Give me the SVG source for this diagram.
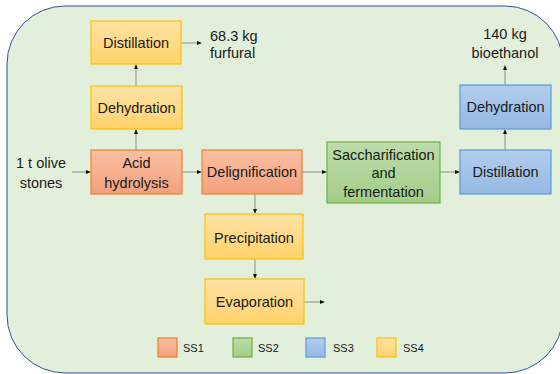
<svg xmlns="http://www.w3.org/2000/svg" width="560" height="374" viewBox="0 0 560 374">
<defs>
<linearGradient id="gy" x1="0" y1="0" x2="0" y2="1"><stop offset="0" stop-color="#ffe2a6"/><stop offset="1" stop-color="#ffd26a"/></linearGradient>
<linearGradient id="gr" x1="0" y1="0" x2="0" y2="1"><stop offset="0" stop-color="#f9c0a4"/><stop offset="1" stop-color="#f4a07c"/></linearGradient>
<linearGradient id="gg" x1="0" y1="0" x2="0" y2="1"><stop offset="0" stop-color="#bcdcaa"/><stop offset="1" stop-color="#a3cd88"/></linearGradient>
<linearGradient id="gb" x1="0" y1="0" x2="0" y2="1"><stop offset="0" stop-color="#b3cdec"/><stop offset="1" stop-color="#95b9e3"/></linearGradient>
<marker id="ah" viewBox="0 0 6 6" refX="5" refY="3" markerWidth="5" markerHeight="5" orient="auto" markerUnits="userSpaceOnUse"><path d="M0,0.5 L6,3 L0,5.5 Z" fill="#111"/></marker>
</defs>
<style>
text{font-family:"Liberation Sans",Arial,sans-serif;font-size:14.5px;fill:#1a1a1a;text-anchor:middle}
.y{fill:url(#gy);stroke:#ffc000;stroke-width:1.2}
.r{fill:url(#gr);stroke:#ed7d31;stroke-width:1.2}
.g{fill:url(#gg);stroke:#70ad47;stroke-width:1.2}
.b{fill:url(#gb);stroke:#5b9bd5;stroke-width:1.2}
.c line{stroke:#9a9f98;stroke-width:1.2;marker-end:url(#ah)}
.lg{font-size:11px;text-anchor:start}
.l{text-anchor:start}
</style>
<rect x="7" y="6" width="556" height="367" rx="58" ry="58" fill="#e2efda" stroke="#2f5597" stroke-width="1"/>
<g class="c" id="connectors">
<line x1="72" y1="172" x2="90" y2="172"/>
<line x1="182" y1="172" x2="201" y2="172"/>
<line x1="136" y1="150" x2="136" y2="130"/>
<line x1="136" y1="86" x2="136" y2="65"/>
<line x1="181" y1="43" x2="201" y2="43"/>
<line x1="302" y1="172" x2="326" y2="172"/>
<line x1="255" y1="194" x2="255" y2="213"/>
<line x1="255" y1="259" x2="255" y2="278"/>
<line x1="304" y1="302" x2="324" y2="302"/>
<line x1="440" y1="172" x2="459" y2="172"/>
<line x1="505" y1="150" x2="505" y2="130"/>
<line x1="505" y1="85" x2="505" y2="66"/>
</g>
<g id="distillation1"><rect class="y" x="91" y="21" width="90" height="43"/><text x="136" y="48">Distillation</text></g>
<g id="dehydration1"><rect class="y" x="91" y="86" width="91" height="43"/><text x="136.5" y="113">Dehydration</text></g>
<g id="acid"><rect class="r" x="91" y="150" width="91" height="44"/><text x="136.5" y="168">Acid</text><text x="136.5" y="188">hydrolysis</text></g>
<g id="delignification"><rect class="r" x="202" y="150" width="100" height="44"/><text x="252" y="177">Delignification</text></g>
<g id="sacch"><rect class="g" x="327" y="142" width="113" height="61"/><text x="383.5" y="160">Saccharification</text><text x="383.5" y="178">and</text><text x="383.5" y="197">fermentation</text></g>
<g id="distillation2"><rect class="b" x="460" y="150" width="91" height="44"/><text x="505.5" y="177">Distillation</text></g>
<g id="dehydration2"><rect class="b" x="460" y="85" width="91" height="44"/><text x="505.5" y="112">Dehydration</text></g>
<g id="precipitation"><rect class="y" x="205" y="214" width="98" height="45"/><text x="254" y="243">Precipitation</text></g>
<g id="evaporation"><rect class="y" x="205" y="279" width="99" height="45"/><text x="254.5" y="307">Evaporation</text></g>
<g id="input"><text x="41" y="168">1 t olive</text><text x="41" y="188">stones</text></g>
<g id="furfural"><text class="l" x="210" y="41">68.3 kg</text><text class="l" x="210" y="58">furfural</text></g>
<g id="bioethanol"><text x="505" y="39">140 kg</text><text x="505" y="58">bioethanol</text></g>
<g id="legend">
<rect class="r" x="158" y="338" width="19" height="19"/><text class="lg" x="183" y="352">SS1</text>
<rect class="g" x="233" y="338" width="19" height="19"/><text class="lg" x="258" y="352">SS2</text>
<rect class="b" x="306" y="338" width="19" height="19"/><text class="lg" x="333" y="352">SS3</text>
<rect class="y" x="377" y="338" width="19" height="19"/><text class="lg" x="403" y="352">SS4</text>
</g>
</svg>
